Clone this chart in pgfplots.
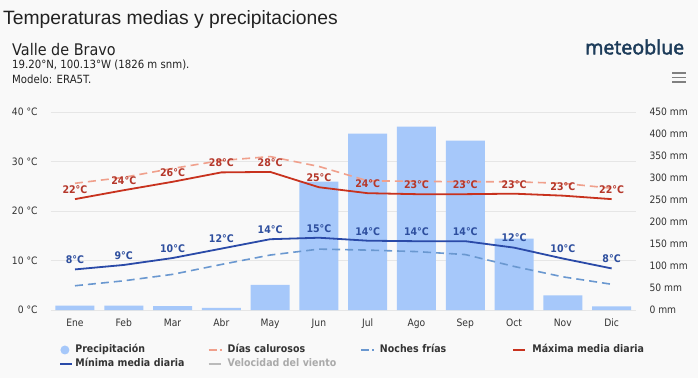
\documentclass[border=0pt]{standalone}
\usepackage{fontspec}
\usepackage{graphicx}
\usepackage{pgfplots}
\pgfplotsset{compat=1.18}
\setmainfont{DejaVu Sans}[FakeStretch=0.9]
\newfontfamily\titlefont{Liberation Sans}
\newfontfamily\logofont{Open Sans}[FakeBold=2.5]
\definecolor{bgc}{HTML}{F9F9F9}
\definecolor{txt}{HTML}{222222}
\definecolor{tick}{HTML}{333333}
\definecolor{gridc}{HTML}{E6E6E6}
\definecolor{barc}{HTML}{A6C8FA}
\definecolor{maxc}{HTML}{C8321E}
\definecolor{hotc}{HTML}{F0A08C}
\definecolor{minc}{HTML}{2A4AA8}
\definecolor{coldc}{HTML}{6A98D0}
\definecolor{labred}{HTML}{B5372A}
\definecolor{labblue}{HTML}{2D4E9E}
\definecolor{velc}{HTML}{AAAAAA}
\definecolor{logoc}{HTML}{1D3C5A}
\pgfplotsset{
  base/.style={at={(50.6pt,68pt)}, anchor=south west, scale only axis,
    width=585.4pt, height=198pt, xmin=-0.5, xmax=11.5,
    axis line style={draw=none}, major tick length=0pt, tick style={draw=none},
    clip=false},
}
\begin{document}
\begin{tikzpicture}
\fill[bgc] (0pt,0pt) rectangle (698pt,378pt);
\node[anchor=base west,inner sep=0pt,font=\titlefont\fontsize{19.3}{22}\selectfont,text=txt] at (3pt,353pt) {Temperaturas medias y precipitaciones};
\node[anchor=base west,inner sep=0pt,font=\fontsize{16}{18}\selectfont,text=txt] at (12pt,322.3pt) {Valle de Bravo};
\node[anchor=base west,inner sep=0pt,font=\fontsize{11.3}{13}\selectfont,text=txt] at (12pt,309.7pt) {19.20°N, 100.13°W (1826 m snm).};
\node[anchor=base west,inner sep=0pt,font=\fontsize{11.3}{13}\selectfont,text=txt] at (12pt,294pt) {Modelo: ERA5T.};
\node[anchor=base west,inner sep=0pt,text=logoc] at (585pt,323.7pt) {\resizebox{99pt}{!}{\logofont meteoblue}};
\foreach \yy in {305,300.5,296} \draw[gray, line width=1.4pt] (672pt,\yy pt) -- (686pt,\yy pt);

% axis 1: grid, left ticks, x ticks
\begin{axis}[base, ymin=0, ymax=40,
  ytick={0,10,20,30,40}, yticklabels={0 °C,10 °C,20 °C,30 °C,40 °C},
  ymajorgrids, grid style={gridc, line width=0.8pt},
  xtick={0,...,11}, xticklabels={Ene,Feb,Mar,Abr,May,Jun,Jul,Ago,Sep,Oct,Nov,Dic},
  yticklabel style={font=\fontsize{10.2}{12}\selectfont, text=tick, xshift=-9.5pt},
  xticklabel style={font=\fontsize{10.2}{12}\selectfont, text=tick, yshift=-5.5pt},
]
\addplot[draw=none, forget plot] coordinates {(0,0)};
\end{axis}

% axis 2: precipitation bars
\begin{axis}[base, ymin=0, ymax=450, axis y line*=right, axis x line=none,
  ytick={0,50,100,150,200,250,300,350,400,450},
  yticklabels={0 mm,50 mm,100 mm,150 mm,200 mm,250 mm,300 mm,350 mm,400 mm,450 mm},
  yticklabel style={font=\fontsize{10.2}{12}\selectfont, text=tick, xshift=10pt},
  xtick=\empty]
\addplot[ybar, bar width=39pt, fill=barc, draw=none] coordinates {
(0,10) (1,10) (2,9) (3,5) (4,57) (5,292) (6,401) (7,417) (8,385) (9,162) (10,33) (11,8)};
\end{axis}

% axis 3: temperature lines
\begin{axis}[base, ymin=0, ymax=40, hide axis,
  legend columns=4,
  legend style={at={(axis description cs:0.0152,-0.178)}, anchor=north west,
    draw=none, fill=none, inner sep=0pt, outer sep=0pt,
    font=\bfseries\fontsize{10.5}{12}\selectfont, text=tick, row sep=4.5pt,
    nodes={inner sep=0pt, text width=130pt, text height=7.5pt, text depth=2pt, align=left},
    /tikz/column 1/.style={column sep=1pt},
    /tikz/column 3/.style={column sep=5pt},
    /tikz/column 5/.style={column sep=5pt},
    /tikz/column 7/.style={column sep=5pt},
    /tikz/every even column/.style={column sep=2.5pt}},
  legend cell align=left,
]
\addlegendimage{legend image code/.code={\path[draw=none,fill=none] (0pt,0pt) -- (14pt,0pt); \path[draw=none,fill=barc] (4.5pt,0pt) circle (4.5pt);}}
\addlegendentry{Precipitación}
\addlegendimage{legend image code/.code={\path[draw=none,fill=none] (0pt,0pt) -- (14pt,0pt); \path[draw=hotc, line width=1.6pt, solid] (0pt,0pt) -- (8pt,0pt); \path[draw=hotc, line width=1.6pt, solid] (11pt,0pt) -- (13pt,0pt);}}
\addlegendentry{Días calurosos}
\addlegendimage{legend image code/.code={\path[draw=none,fill=none] (0pt,0pt) -- (14pt,0pt); \path[draw=coldc, line width=1.6pt, solid] (0pt,0pt) -- (8pt,0pt); \path[draw=coldc, line width=1.6pt, solid] (11pt,0pt) -- (13pt,0pt);}}
\addlegendentry{Noches frías}
\addlegendimage{legend image code/.code={\path[draw=none,fill=none] (0pt,0pt) -- (14pt,0pt); \path[draw=maxc, line width=1.8pt, solid] (0pt,0pt) -- (12pt,0pt);}}
\addlegendentry{Máxima media diaria}
\addlegendimage{legend image code/.code={\path[draw=none,fill=none] (0pt,0pt) -- (14pt,0pt); \path[draw=minc, line width=1.8pt, solid] (0pt,0pt) -- (12pt,0pt);}}
\addlegendentry{Mínima media diaria}
\addlegendimage{legend image code/.code={\path[draw=none,fill=none] (0pt,0pt) -- (14pt,0pt); \path[draw=velc!80, line width=1.6pt, solid] (0pt,0pt) -- (12pt,0pt);}}
\addlegendentry{\textcolor{velc}{Velocidad del viento}}

\addplot[forget plot, hotc, line width=1.6pt, dash pattern=on 8pt off 5pt] coordinates {
(0,25.6) (1,26.8) (2,28.6) (3,30.2) (4,31.0) (5,29.0) (6,26.1) (7,26.0) (8,25.9) (9,25.9) (10,25.6) (11,24.6)};
\addplot[forget plot, coldc, line width=1.6pt, dash pattern=on 8pt off 5pt] coordinates {
(0,4.9) (1,5.9) (2,7.2) (3,9.2) (4,11.1) (5,12.3) (6,12.1) (7,11.8) (8,11.2) (9,8.8) (10,6.7) (11,5.2)};
\addplot[forget plot, maxc, line width=1.8pt, nodes near coords, point meta=explicit symbolic,
  every node near coord/.append style={font=\bfseries\fontsize{10.5}{12}\selectfont, text=labred, anchor=center, yshift=9.5pt}]
  table[meta=l] {
x y l
0 22.4 22°C
1 24.2 24°C
2 25.9 26°C
3 27.8 28°C
4 27.9 28°C
5 24.8 25°C
6 23.6 24°C
7 23.4 23°C
8 23.4 23°C
9 23.5 23°C
10 23.1 23°C
11 22.4 22°C
};
\addplot[forget plot, minc, line width=1.8pt, nodes near coords, point meta=explicit symbolic,
  every node near coord/.append style={font=\bfseries\fontsize{10.5}{12}\selectfont, text=labblue, anchor=center, yshift=9.5pt}]
  table[meta=l] {
x y l
0 8.2 8°C
1 9.1 9°C
2 10.5 10°C
3 12.4 12°C
4 14.3 14°C
5 14.6 15°C
6 14.0 14°C
7 13.9 14°C
8 13.9 14°C
9 12.6 12°C
10 10.4 10°C
11 8.4 8°C
};
\end{axis}
\end{tikzpicture}
\end{document}
